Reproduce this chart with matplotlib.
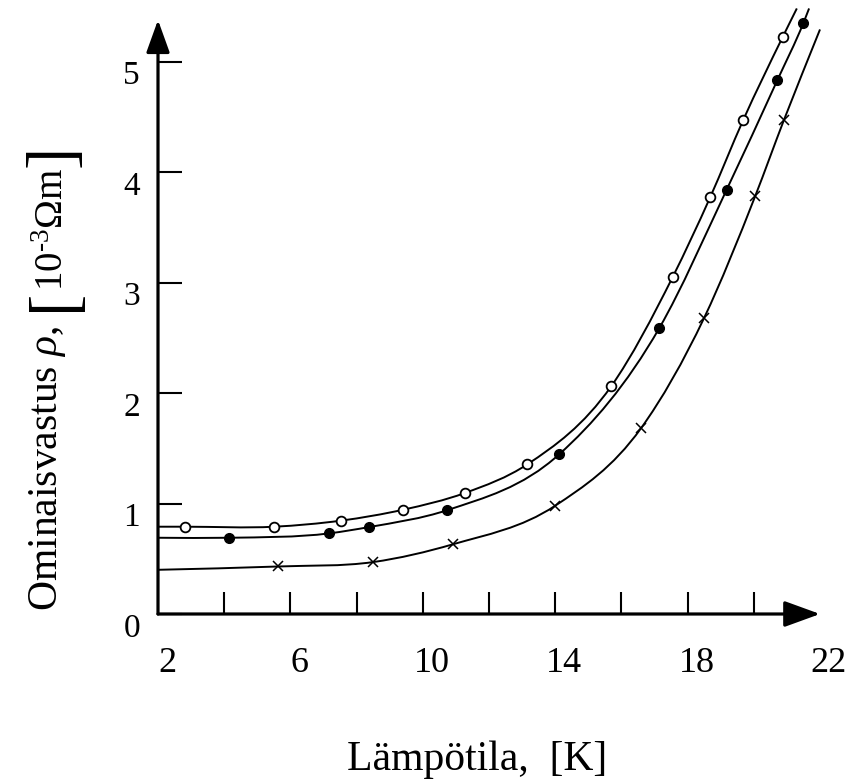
import matplotlib
matplotlib.use("Agg")
import numpy as np
import matplotlib.pyplot as plt
from matplotlib.path import Path
from matplotlib.patches import PathPatch
from matplotlib.transforms import ScaledTranslation

plt.rcParams['font.family'] = ['Liberation Serif', 'DejaVu Serif']
plt.rcParams['mathtext.fontset'] = 'custom'
plt.rcParams['mathtext.rm'] = 'Liberation Serif'
plt.rcParams['mathtext.it'] = 'Liberation Serif:italic'

# measured points (temperature K, resistivity 1e-3 ohm m)
open_T = [2.82, 5.51, 7.53, 9.41, 11.27, 13.16, 15.69, 17.55, 18.68, 19.68, 20.87]
open_rho = [0.79, 0.79, 0.845, 0.944, 1.095, 1.355, 2.06, 3.05, 3.77, 4.47, 5.22]

full_T = [4.15, 7.18, 8.38, 10.74, 14.12, 17.15, 19.18, 20.71, 21.5]
full_rho = [0.69, 0.73, 0.787, 0.94, 1.445, 2.59, 3.84, 4.83, 5.35]

cross_T = [5.63, 8.5, 10.9, 14.0, 16.59, 18.5, 20.04, 20.91]
cross_rho = [0.43, 0.47, 0.63, 0.98, 1.68, 2.68, 3.78, 4.47]

# where each fitted curve starts (at the axis) and stops (top edge)
open_ends = [(2.0, 0.79), (21.3, 5.48)]
full_ends = [(2.0, 0.69), (21.67, 5.48)]
cross_ends = [(2.0, 0.40), (22.0, 5.29)]

x_labels = [2, 6, 10, 14, 18, 22]
x_marks = [4, 6, 8, 10, 12, 14, 16, 18, 20]
y_labels = [0, 1, 2, 3, 4, 5]


def smooth_path(xs, ys):
    # cubic Hermite in x, tangents from neighbouring secants, as Bezier segments
    x = np.asarray(xs, float)
    y = np.asarray(ys, float)
    h = np.diff(x)
    s = np.diff(y) / h
    m = np.empty_like(y)
    m[0] = s[0]
    m[-1] = s[-1]
    for i in range(1, len(x) - 1):
        m[i] = (h[i] * s[i - 1] + h[i - 1] * s[i]) / (h[i - 1] + h[i])
    verts = [(x[0], y[0])]
    codes = [Path.MOVETO]
    for i in range(len(x) - 1):
        d = h[i] / 3.0
        verts += [(x[i] + d, y[i] + m[i] * d),
                  (x[i + 1] - d, y[i + 1] - m[i + 1] * d),
                  (x[i + 1], y[i + 1])]
        codes += [Path.CURVE4] * 3
    return Path(verts, codes)


fig = plt.figure(figsize=(8.5, 7.83), dpi=100)
W, H = 850.0, 783.0
ax = fig.add_axes([158 / W, (H - 614) / H, 1 - 158 / W, 614 / H])
ax.set_xlim(2, 2 + (850 - 158) / 33.1)
ax.set_ylim(0, 614 / 110.5)
for s in ax.spines.values():
    s.set_visible(False)

for T, rho, ends in [(open_T, open_rho, open_ends),
                     (full_T, full_rho, full_ends),
                     (cross_T, cross_rho, cross_ends)]:
    xs = [ends[0][0]] + T + [ends[1][0]]
    ys = [ends[0][1]] + rho + [ends[1][1]]
    ax.add_patch(PathPatch(smooth_path(xs, ys), fill=False, lw=1.4,
                           edgecolor='black', clip_on=False))

ax.plot(open_T, open_rho, 'o', ms=7, mfc='white', mec='black', mew=1.3, zorder=3)
ax.plot(full_T, full_rho, 'o', ms=7, mfc='black', mec='black', zorder=3)
ax.plot(cross_T, cross_rho, 'x', ms=7.5, color='black', mew=1.1, zorder=3)

# axes with arrow heads
ax.annotate('', xy=(22, 0), xytext=(2, 0),
            arrowprops=dict(arrowstyle='-|>,head_length=1.1,head_width=0.4',
                            mutation_scale=20, lw=2.3, color='black',
                            shrinkA=0, shrinkB=0), annotation_clip=False)
ax.annotate('', xy=(2, 594 / 110.5), xytext=(2, 0),
            arrowprops=dict(arrowstyle='-|>,head_length=1.0,head_width=0.36',
                            mutation_scale=20, lw=2.3, color='black',
                            shrinkA=0, shrinkB=0), annotation_clip=False)

ax.set_xticks(x_labels)
ax.set_xticks(x_marks, minor=True)
ax.xaxis.remove_overlapping_locs = False
ax.tick_params(axis='x', which='major', length=0, pad=24, labelsize=26)
ax.tick_params(axis='x', which='minor', direction='in', length=16, width=1.5)
ax.set_yticks(y_labels)
ax.tick_params(axis='y', direction='in', length=17, width=1.5, pad=13, labelsize=24)

for lbl in ax.get_xticklabels():
    lbl.set_transform(lbl.get_transform() + ScaledTranslation(0.09, 0, fig.dpi_scale_trans))
for lbl in ax.get_yticklabels():
    lbl.set_transform(lbl.get_transform() + ScaledTranslation(0, -0.11, fig.dpi_scale_trans))

fig.text(477 / W, 1 - 760 / H, 'Lämpötila,  [K]', fontsize=30, ha='center', va='center')

fig.text(47 / W, 1 - 468 / H, r'Ominaisvastus $\rho$,', fontsize=30,
         rotation=90, ha='center', va='center')
fig.text(54 / W, 1 - 229 / H, r'$10^{\text{-}3}\Omega$m', fontsize=28,
         rotation=90, ha='center', va='center')
fig.text(55 / W, 1 - 300 / H, '[', fontsize=48, rotation=90, ha='center', va='center')
fig.text(55 / W, 1 - 156 / H, ']', fontsize=48, rotation=90, ha='center', va='center')

fig.savefig('out.png', dpi=100)
